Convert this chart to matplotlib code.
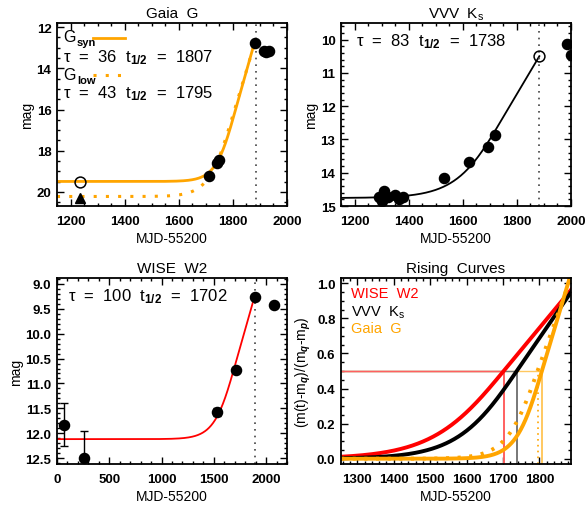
import numpy as np
import matplotlib
matplotlib.use('Agg')
import matplotlib.pyplot as plt
from matplotlib.ticker import MultipleLocator, FormatStrFormatter

plt.rcParams['font.family'] = ['Liberation Sans', 'DejaVu Sans']
plt.rcParams['font.weight'] = 'bold'
plt.rcParams['mathtext.fontset'] = 'custom'
plt.rcParams['mathtext.rm'] = 'Liberation Sans'
plt.rcParams['mathtext.it'] = 'Liberation Sans:italic'
plt.rcParams['mathtext.bf'] = 'Liberation Sans:bold'

ORANGE = '#ffa500'

# ---------------- data ----------------
t_peak = 1887

# Gaia G
gaia_t = [1712, 1741, 1748, 1881, 1915, 1923, 1932]
gaia_m = [19.22, 18.58, 18.45, 12.76, 13.17, 13.2, 13.17]
gaia_open_t = [1235]
gaia_open_m = [19.5]
gaia_tri_t = [1235]
gaia_tri_m = [20.27]
# fit parameters: tau, t_half, m_quiescent, amplitude
gaia_syn = dict(tau=36, thalf=1807, mq=19.49, amp=6.70)
gaia_low = dict(tau=43, thalf=1795, mq=20.22, amp=7.45)

# VVV Ks
vvv_t = [1290, 1300, 1310, 1322, 1350, 1365, 1380, 1532, 1624, 1694, 1720, 1984, 2000]
vvv_m = [14.72, 14.86, 14.55, 14.72, 14.68, 14.78, 14.74, 14.17, 13.69, 13.23, 12.87, 10.13, 10.45]
vvv_open_t = [1883]
vvv_open_m = [10.5]
vvv_fit = dict(tau=83, thalf=1738, mq=14.76, amp=4.55)

# WISE W2
wise_t = [69, 261, 1528, 1713, 1892, 2077]
wise_m = [11.83, 12.5, 11.58, 10.72, 9.27, 9.42]
wise_e = [0.43, 0.55, 0.08, 0.0, 0.0, 0.0]
wise_fit = dict(tau=100, thalf=1702, mq=12.12, amp=2.96)


def rise(t, tau, thalf):
    x = (np.asarray(t, dtype=float) - thalf) / tau
    return np.where(x < 0, 1.0 / (1.0 + np.exp(-np.minimum(x, 0))), 0.5 + x / 4.0)


def model_mag(t, p):
    return p['mq'] - p['amp'] * rise(t, p['tau'], p['thalf'])


W, H = 587, 506
fig = plt.figure(figsize=(W / 100, H / 100), dpi=100)


def px_axes(l, t, r, b):
    return fig.add_axes([l / W, 1 - b / H, (r - l) / W, (b - t) / H])


def style(ax, xmaj, xmin, ymaj, ymin, yfmt=None):
    ax.xaxis.set_major_locator(MultipleLocator(xmaj))
    ax.xaxis.set_minor_locator(MultipleLocator(xmin))
    ax.yaxis.set_major_locator(MultipleLocator(ymaj))
    ax.yaxis.set_minor_locator(MultipleLocator(ymin))
    if yfmt:
        ax.yaxis.set_major_formatter(FormatStrFormatter(yfmt))
    ax.tick_params(which='both', direction='in', top=True, right=True, width=1.0)
    ax.tick_params(which='major', length=5, labelsize=9.5)
    ax.tick_params(axis='x', which='major', pad=6.5)
    ax.tick_params(axis='y', which='major', pad=4)
    ax.tick_params(which='minor', length=2.5)
    for s in ax.spines.values():
        s.set_linewidth(1.3)
    ax.set_xlabel('MJD-55200', fontsize=10, labelpad=3)


txt_kw = dict(fontsize=12, fontweight='normal', ha='left', va='baseline')
g_kw = dict(fontsize=11.5, fontweight='normal', ha='left', va='baseline')
sub_kw = dict(fontsize=8, fontweight='bold', ha='left', va='baseline')

# ---------------- Panel 1: Gaia G ----------------
ax1 = px_axes(57, 23.5, 287, 207)
ax1.set_xlim(1150, 2000)
ax1.set_ylim(20.68, 11.78)
tt = np.linspace(1150, 1880, 400)
ax1.plot(tt, model_mag(tt, gaia_syn), color=ORANGE, lw=2)
ax1.plot(tt, model_mag(tt, gaia_low), color=ORANGE, lw=2.2, ls=(0, (1, 3)))
ax1.axvline(t_peak, color='#444444', lw=1.2, ls=(0, (1, 3)))
ax1.plot(gaia_t, gaia_m, 'o', color='black', ms=7.3)
ax1.plot(gaia_open_t, gaia_open_m, 'o', mfc='none', mec='black', ms=7.8, mew=1.1)
ax1.plot(gaia_tri_t, gaia_tri_m, '^', color='black', ms=7.3)
style(ax1, 200, 50, 2, 0.5)
ax1.set_ylabel('mag', fontsize=10, labelpad=2)
ax1.set_title('Gaia  G', fontsize=11, fontweight='normal', pad=4)
ax1.text(0.026, 0.90, 'G', transform=ax1.transAxes, **g_kw)
ax1.text(0.086, 0.877, 'syn', transform=ax1.transAxes, **sub_kw)
ax1.plot([0.157, 0.296], [0.917, 0.917], transform=ax1.transAxes, color=ORANGE, lw=2)
ax1.text(0.026, 0.787, r'τ  =  36  t$_{1/2}$  =  1807', transform=ax1.transAxes, **txt_kw)
ax1.text(0.026, 0.692, 'G', transform=ax1.transAxes, **g_kw)
ax1.text(0.086, 0.672, 'low', transform=ax1.transAxes, **sub_kw)
ax1.plot([0.157, 0.30], [0.712, 0.712], transform=ax1.transAxes, color=ORANGE, lw=2.2, ls=(0, (1, 3)))
ax1.text(0.026, 0.590, r'τ  =  43  t$_{1/2}$  =  1795', transform=ax1.transAxes, **txt_kw)

# ---------------- Panel 2: VVV Ks ----------------
ax2 = px_axes(341, 24, 571, 207)
ax2.set_xlim(1150, 2000)
ax2.set_ylim(15.0, 9.5)
tt = np.linspace(1150, 1883, 400)
ax2.plot(tt, model_mag(tt, vvv_fit), color='black', lw=1.3)
ax2.axvline(t_peak - 4, color='#444444', lw=1.2, ls=(0, (1, 3)))
ax2.plot(vvv_t, vvv_m, 'o', color='black', ms=7.3, clip_on=True)
ax2.plot(vvv_open_t, vvv_open_m, 'o', mfc='none', mec='black', ms=7.8, mew=1.1)
style(ax2, 200, 50, 1, 0.2)
ax2.set_ylabel('mag', fontsize=10, labelpad=2)
ax2.set_title(r'VVV  K$_{\mathregular{s}}$', fontsize=11, fontweight='normal', pad=4)
ax2.text(0.067, 0.88, r'τ  =  83  t$_{1/2}$  =  1738', transform=ax2.transAxes, **txt_kw)

# ---------------- Panel 3: WISE W2 ----------------
ax3 = px_axes(57, 279, 287, 465)
ax3.set_xlim(0, 2200)
ax3.set_ylim(12.62, 8.88)
tt = np.linspace(0, 1890, 600)
ax3.plot(tt, model_mag(tt, wise_fit), color='red', lw=1.3)
ax3.axvline(t_peak + 3, color='#444444', lw=1.2, ls=(0, (1, 3)))
ax3.errorbar(wise_t, wise_m, yerr=wise_e, fmt='o', color='black', ms=7.3,
             ecolor='black', elinewidth=1, capsize=3)
style(ax3, 500, 100, 0.5, 0.1, '%.1f')
ax3.set_ylabel('mag', fontsize=10, labelpad=2)
ax3.set_title('WISE  W2', fontsize=11, fontweight='normal', pad=4)
ax3.text(0.049, 0.88, r'τ  =  100  t$_{1/2}$  =  1702', transform=ax3.transAxes, **txt_kw)

# ---------------- Panel 4: Rising Curves ----------------
ax4 = px_axes(341, 279, 571, 465)
ax4.set_xlim(1255, t_peak)
ax4.set_ylim(-0.03, 1.03)
tt = np.linspace(1255, t_peak, 500)
# half-level guide lines (drawn back to front)
ax4.plot([1255, gaia_syn['thalf']], [0.5, 0.5], color='#ffc860', lw=1)
ax4.plot([1255, vvv_fit['thalf']], [0.5, 0.5], color='#777777', lw=1)
ax4.plot([1255, wise_fit['thalf']], [0.5, 0.5], color='#ff6060', lw=1)
ax4.plot([wise_fit['thalf']] * 2, [-0.03, 0.5], color='#ff6060', lw=1.4)
ax4.plot([vvv_fit['thalf']] * 2, [-0.03, 0.5], color='#777777', lw=1.4)
ax4.plot([gaia_syn['thalf']] * 2, [-0.03, 0.5], color='#ffc860', lw=1.4)
ax4.plot([gaia_low['thalf']] * 2, [-0.03, 0.5], color=ORANGE, lw=1.2, ls=(0, (1, 2.5)))
ax4.plot(tt, rise(tt, wise_fit['tau'], wise_fit['thalf']), color='red', lw=2.8)
ax4.plot(tt, rise(tt, vvv_fit['tau'], vvv_fit['thalf']), color='black', lw=2.8)
ax4.plot(tt, rise(tt, gaia_low['tau'], gaia_low['thalf']), color=ORANGE, lw=2.8, ls=(0, (0.8, 2.2)))
ax4.plot(tt, rise(tt, gaia_syn['tau'], gaia_syn['thalf']), color=ORANGE, lw=2.8)
style(ax4, 100, 20, 0.2, 0.05, '%.1f')
ax4.set_ylabel(r'(m(t)-m$_q$)/(m$_q$-m$_p$)', fontsize=10, labelpad=3)
ax4.set_title('Rising  Curves', fontsize=11, fontweight='normal', pad=4)
leg_kw = dict(fontsize=10.5, fontweight='normal', ha='left', va='baseline', transform=ax4.transAxes)
ax4.text(0.045, 0.896, 'WISE  W2', color='red', **leg_kw)
ax4.text(0.045, 0.797, r'VVV  K$_{\mathregular{s}}$', color='black', **leg_kw)
ax4.text(0.045, 0.708, 'Gaia  G', color=ORANGE, **leg_kw)

fig.savefig('out.png', dpi=100)
